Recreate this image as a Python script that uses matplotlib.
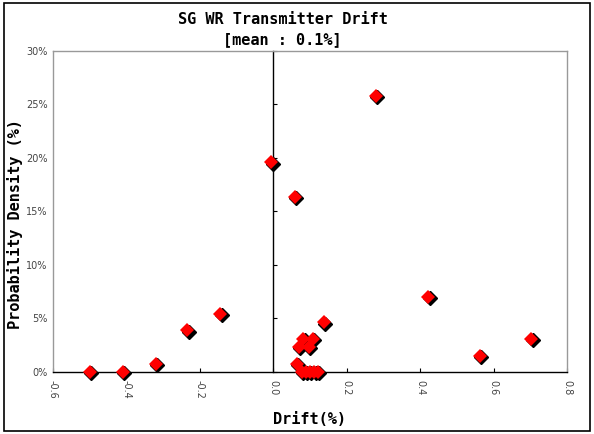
import numpy as np
import matplotlib
matplotlib.use("Agg")
import matplotlib.pyplot as plt
from matplotlib.patches import Rectangle
from matplotlib.transforms import offset_copy

# drift (%) vs probability density (%)
drift = np.array([-0.50, -0.41, -0.32, -0.234, -0.145, -0.005, 0.058,
                  0.064, 0.070, 0.082, 0.096, 0.107, 0.137, 0.279,
                  0.422, 0.563, 0.703,
                  0.078, 0.089, 0.100, 0.111, 0.121])
density = np.array([0.0, 0.0, 0.79, 3.88, 5.45, 19.6, 16.4,
                    0.78, 2.34, 3.09, 2.34, 3.09, 4.65, 25.8,
                    7.05, 1.53, 3.09,
                    0.0, 0.0, 0.0, 0.0, 0.0])

x_ticks = [-0.6, -0.4, -0.2, 0.0, 0.2, 0.4, 0.6, 0.8]
x_labels = ["-0.6", "-0.4", "-0.2", "0.0", "0.2", "0.4", "0.6", "0.8"]
y_ticks = [0, 5, 10, 15, 20, 25, 30]
y_labels = ["0%", "5%", "10%", "15%", "20%", "25%", "30%"]

title_font = dict(family="DejaVu Sans Mono", weight="bold", fontsize=11)

fig = plt.figure(figsize=(5.94, 4.34), dpi=100)
ax = fig.add_axes([0.0892, 0.1429, 0.8653, 0.7396])

# black frame round the whole chart
fig.patches.append(Rectangle((0.007, 0.008), 0.986, 0.985, transform=fig.transFigure,
                             fill=False, edgecolor="black", linewidth=1.2))

ax.set_xlim(-0.6, 0.8)
ax.set_ylim(0, 30)

for side in ["left", "top", "right"]:
    ax.spines[side].set_color("#999999")
    ax.spines[side].set_linewidth(1.0)
ax.spines["bottom"].set_color("black")
ax.spines["bottom"].set_linewidth(1.0)

ax.set_xticks(x_ticks)
ax.set_xticklabels(x_labels, rotation=-90, fontsize=7, color="#444444")
ax.tick_params(axis="x", direction="in", length=3, width=0.8, pad=6)

ax.set_yticks(y_ticks)
ax.set_yticklabels(y_labels, fontsize=7, color="#444444")
ax.tick_params(axis="y", length=0, pad=4)

# vertical axis at drift = 0 with inward ticks
sec = ax.secondary_yaxis(0.6 / 1.4)
sec.set_yticks(y_ticks)
sec.set_yticklabels([])
sec.tick_params(direction="in", length=3, width=0.8)
sec.spines["left"].set_color("black")
sec.spines["left"].set_linewidth(1.0)

# shadow then red diamonds
shadow = offset_copy(ax.transData, fig=fig, x=1.5, y=-1.5, units="dots")
ax.plot(drift, density, "D", color="black", markersize=7.5, transform=shadow,
        clip_on=False, zorder=3)
ax.plot(drift, density, "D", color="red", markersize=7.5, markeredgewidth=0,
        clip_on=False, zorder=4)

fig.text(0.4756, 0.954, "SG WR Transmitter Drift", ha="center", va="center", **title_font)
fig.text(0.4756, 0.908, "[mean : 0.1%]", ha="center", va="center", **title_font)
fig.text(0.521, 0.034, "Drift(%)", ha="center", va="center", **title_font)
fig.text(0.026, 0.484, "Probability Density (%)", ha="center", va="center",
         rotation=90, **title_font)

fig.savefig("out.png", dpi=100)
